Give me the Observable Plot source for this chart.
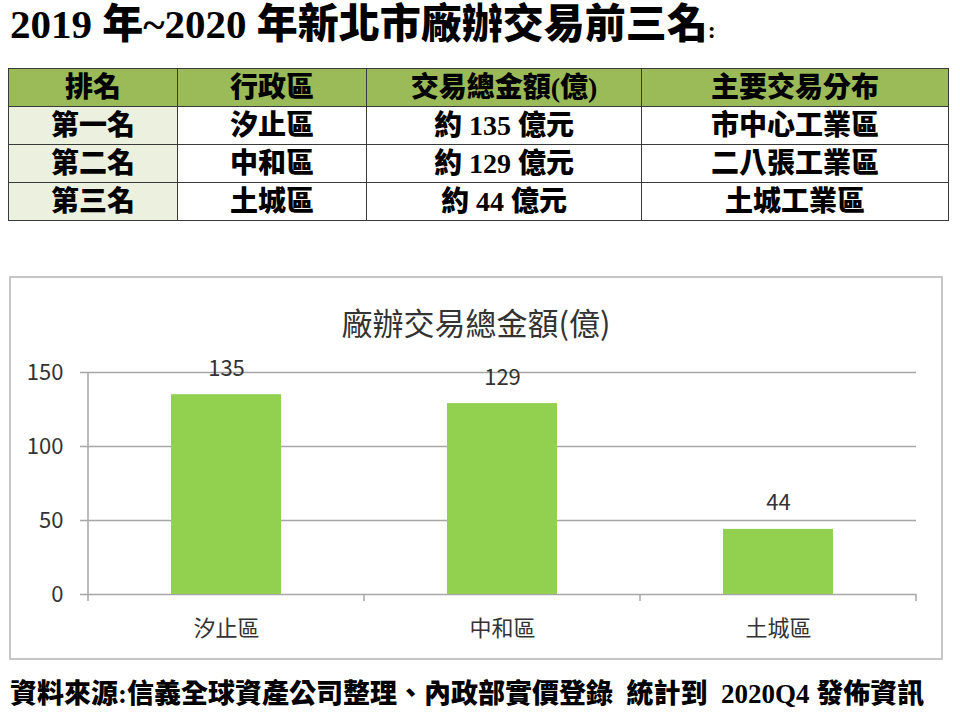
<!DOCTYPE html>
<html><head><meta charset="utf-8">
<script src="https://cdn.jsdelivr.net/npm/d3@7"></script>
<script src="https://cdn.jsdelivr.net/npm/@observablehq/plot@0.6"></script>
<style>
body{margin:0;width:960px;height:720px;background:#fff;position:relative;overflow:hidden;font-family:"Liberation Serif","Noto Sans CJK TC",serif;color:#000;}
#title{position:absolute;left:10px;top:-2px;font-size:41px;font-weight:900;white-space:nowrap;line-height:52px;}
#title .colon{font-size:24px;}
table{position:absolute;left:8px;top:68px;width:940px;border-collapse:collapse;table-layout:fixed;}
td{border:1.5px solid #3a3a3a;height:37px;padding:0;text-align:center;font-size:28px;font-weight:900;line-height:37px;white-space:pre;}
tr.head td{background:#9bbb59;}
td.first{background:#ebf1de;}
#box{position:absolute;left:9px;top:276px;width:934px;height:384px;border:2px solid #c6c6c6;box-sizing:border-box;}
#ctitle{position:absolute;left:0;top:24px;width:100%;text-align:center;font-family:"Noto Sans CJK TC",sans-serif;font-size:31px;color:#333;line-height:40px;}
#plot{position:absolute;left:0;top:0;}
#caption{position:absolute;left:10px;top:674px;font-size:27px;font-weight:900;white-space:pre;line-height:40px;}
</style>
</head><body>
<div id="title"></div>
<table id="tbl"><colgroup><col style="width:169px"><col style="width:189px"><col style="width:275px"><col style="width:307px"></colgroup><tbody></tbody></table>
<div id="box"><div id="ctitle"></div><div id="plot"></div></div>
<div id="caption"></div>
<script>
// ---- data ----
const titleText = "2019 年~2020 年新北市廠辦交易前三名";
const tableHeader = ["排名", "行政區", "交易總金額(億)", "主要交易分布"];
const ranks = ["第一名", "第二名", "第三名"];
const districts = ["汐止區", "中和區", "土城區"];
const amounts = [135, 129, 44];
const amountText = ["約 135 億元", "約 129 億元", "約 44 億元"];
const mainAreas = ["市中心工業區", "二八張工業區", "土城工業區"];
const chartTitle = "廠辦交易總金額(億)";
const yTicks = [0, 50, 100, 150];
const captionText = "資料來源:信義全球資產公司整理、內政部實價登錄  統計到  2020Q4 發佈資訊";

// ---- page text ----
document.getElementById("title").innerHTML = titleText + '<span class="colon">:</span>';
document.getElementById("ctitle").textContent = chartTitle;
document.getElementById("caption").textContent = captionText;
const tbody = document.querySelector("#tbl tbody");
const hr = document.createElement("tr"); hr.className = "head";
tableHeader.forEach(h => { const td = document.createElement("td"); td.textContent = h; hr.appendChild(td); });
tbody.appendChild(hr);
ranks.forEach((r, i) => {
  const tr = document.createElement("tr");
  [r, districts[i], amountText[i], mainAreas[i]].forEach((v, j) => {
    const td = document.createElement("td"); td.textContent = v; if (j === 0) td.className = "first"; tr.appendChild(td);
  });
  tbody.appendChild(tr);
});

// ---- chart ----
const data = districts.map((d, i) => ({district: d, amount: amounts[i]}));
const gridColor = "#a6a6a6";

function bandTicks(index, scales, values, dims) {
  const x = scales.x, y = scales.y;
  const n = districts.length;
  const step = x.step ? x.step() : (dims.width - dims.marginLeft - dims.marginRight) / n;
  const bw = x.bandwidth ? x.bandwidth() : 0;
  const pad = (step - bw) / 2;
  const y0 = y(0);
  const g = d3.create("svg:g").attr("stroke", gridColor).attr("stroke-width", 1.5);
  const xs = districts.map(d => x(d) - pad);
  xs.push(x(districts[n - 1]) + bw + pad);
  xs.forEach(px => g.append("line").attr("x1", px).attr("x2", px).attr("y1", y0).attr("y2", y0 + 7));
  g.append("line").attr("x1", xs[0]).attr("x2", xs[0]).attr("y1", y(d3.max(yTicks))).attr("y2", y0);
  return g.node();
}

const chart = Plot.plot({
  width: 930, height: 380,
  marginLeft: 77, marginRight: 25, marginTop: 94, marginBottom: 64,
  style: {fontFamily: '"Noto Sans CJK TC", sans-serif', fontSize: "22px", color: "#333", background: "transparent", overflow: "visible"},
  x: {domain: districts, paddingInner: 0.6, paddingOuter: 0.3, label: null},
  y: {domain: [0, 150], label: null},
  marks: [
    Plot.ruleY(yTicks, {stroke: gridColor, strokeWidth: 1.5}),
    Plot.barY(data, {x: "district", y: "amount", fill: "#92d050"}),
    Plot.text(data, {x: "district", y: "amount", text: d => String(d.amount), dy: -26, fontSize: 22, fill: "#333"}),
    Plot.axisY({ticks: yTicks, tickSize: 8, tickPadding: 17, fontSize: 22, stroke: gridColor, strokeWidth: 1.5, fill: "#333", label: null}),
    Plot.axisX({tickSize: 0, tickPadding: 26, fontSize: 22, fill: "#333", label: null}),
    bandTicks
  ]
});
document.getElementById("plot").appendChild(chart);
</script>
</body></html>
